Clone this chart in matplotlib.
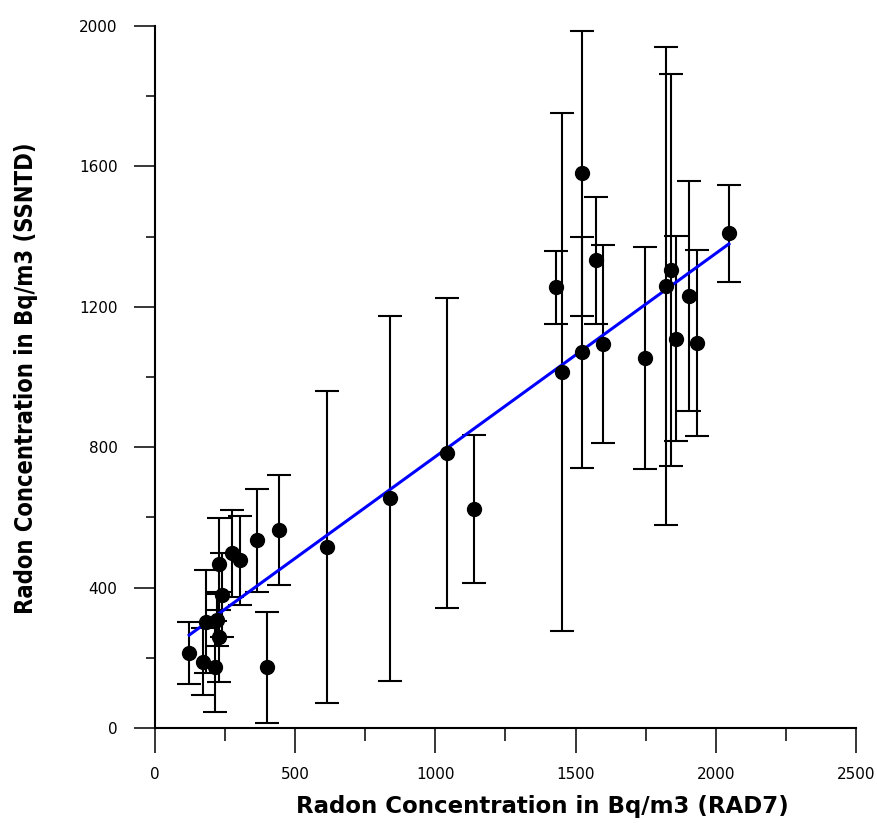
import matplotlib
matplotlib.use("Agg")
import matplotlib.pyplot as plt
import numpy as np

# radon readings: RAD7 (x) vs SSNTD (y) with SSNTD uncertainty
rad7 = [122, 172, 214, 182, 220, 229, 238, 229, 273, 303, 365, 443, 400, 612,
        837, 1042, 1137, 1429, 1453, 1524, 1524, 1574, 1598, 1746, 1824, 1841,
        1857, 1904, 1934, 2047]
ssntd = [214, 189, 175, 303, 308, 260, 379, 467, 498, 478, 535, 564, 173, 515,
         654, 784, 623, 1255, 1014, 1580, 1071, 1333, 1095, 1053, 1259, 1305,
         1109, 1231, 1097, 1409]
ssntd_err = [89, 95, 130, 147, 75, 128, 120, 130, 124, 127, 147, 158, 158, 445,
             520, 442, 211, 105, 739, 406, 329, 181, 282, 316, 680, 558,
             292, 327, 266, 139]

# fitted line
fit_slope = 0.579
fit_intercept = 194

x_ticks = [0, 500, 1000, 1500, 2000, 2500]
y_ticks = [0, 400, 800, 1200, 1600, 2000]

fig = plt.figure(figsize=(8.78, 8.25), dpi=100)
ax = fig.add_axes([0.1765, 0.1176, 0.7984, 0.8509])

ax.errorbar(rad7, ssntd, yerr=ssntd_err, fmt="none", ecolor="black",
            elinewidth=1.5, capsize=8.3, capthick=1.5, zorder=2)

xs = np.array([min(rad7), max(rad7)])
ax.plot(xs, fit_slope * xs + fit_intercept, color="#0000ff", lw=2.2, zorder=3)

ax.plot(rad7, ssntd, "o", color="black", markersize=10, zorder=4)

ax.set_xlim(0, 2500)
ax.set_ylim(0, 2000)
ax.set_xticks(x_ticks)
ax.set_yticks(y_ticks)
ax.set_xticks([250, 750, 1250, 1750, 2250], minor=True)
ax.set_yticks([200, 600, 1000, 1400, 1800], minor=True)

for s in ["top", "right"]:
    ax.spines[s].set_visible(False)
for s in ["left", "bottom"]:
    ax.spines[s].set_linewidth(1.5)

ax.tick_params(axis="x", which="major", direction="out", length=18, width=1.1,
               pad=10, labelsize=11)
ax.tick_params(axis="x", which="minor", direction="out", length=9.4, width=1.1)
ax.tick_params(axis="y", which="major", direction="out", length=15, width=1.1,
               pad=12, labelsize=11)
ax.tick_params(axis="y", which="minor", direction="out", length=6.5, width=1.1)

fig.text(542 / 878, 1 - 806 / 825, "Radon Concentration in Bq/m3 (RAD7)",
         ha="center", va="center", fontsize=16.5, fontweight="bold",
         family="DejaVu Sans")
fig.text(26 / 878, 1 - 378 / 825, "Radon Concentration in Bq/m3 (SSNTD)",
         ha="center", va="center", rotation=90, fontsize=17, fontweight="bold",
         family="DejaVu Sans", fontstretch="condensed")

fig.savefig("out.png", dpi=100)
